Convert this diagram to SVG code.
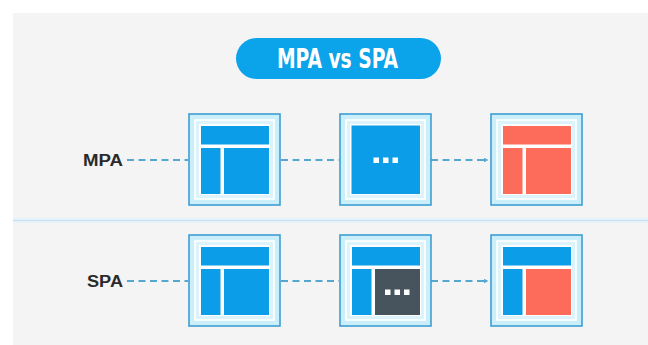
<svg xmlns="http://www.w3.org/2000/svg" width="648" height="345" viewBox="0 0 648 345">
<style>
.outer{fill:#cbeefb;stroke:#3d9fd3;stroke-width:1.6}
.ring{fill:#ddf3fc;stroke:#ffffff;stroke-width:1.6}
.bg{fill:#ffffff}
.b{fill:#0b9de8}
.r{fill:#fd6b5a}
.d{fill:#47545e}
.dot{fill:#ffffff}
.lbl{font-family:"Liberation Sans",Arial,sans-serif;font-weight:bold;font-size:16px;fill:#2b2b2b}
.dash{stroke:#55a7cf;stroke-width:2;stroke-dasharray:7 4.5;fill:none}
</style>
<defs>
<marker id="ah" viewBox="0 0 10 10" refX="9" refY="5" markerWidth="5" markerHeight="5" orient="auto" markerUnits="userSpaceOnUse">
<path d="M0,0 L10,5 L0,10 z" fill="#55a7cf"/>
</marker>
<g id="frame">
<rect class="outer" x="0" y="0" width="91" height="91"/>
<rect class="ring" x="6" y="6" width="79" height="79"/>
<rect class="bg" x="10" y="10" width="71" height="71"/>
</g>
</defs>
<rect x="0" y="0" width="648" height="345" fill="#ffffff"/>
<rect x="13" y="13" width="635" height="332" fill="#f4f4f5"/>
<rect x="13" y="218" width="635" height="5" fill="#e6f2f9"/>
<line x1="13" y1="220.5" x2="648" y2="220.5" stroke="#c9dfed" stroke-width="1.2"/>

<g id="title">
<rect x="236" y="38" width="205" height="41" rx="20.5" fill="#0ba3e9"/>
<text x="337.5" y="68" text-anchor="middle" font-family="'DejaVu Sans Condensed','DejaVu Sans',sans-serif" font-weight="bold" font-size="26" fill="#ffffff" textLength="121" lengthAdjust="spacingAndGlyphs">MPA vs SPA</text>
</g>

<g id="connectors">
<line class="dash" x1="127" y1="160" x2="188" y2="160"/>
<line class="dash" x1="281" y1="160" x2="339" y2="160"/>
<line class="dash" x1="431" y1="160" x2="488" y2="160" marker-end="url(#ah)"/>
<line class="dash" x1="127" y1="281" x2="188" y2="281"/>
<line class="dash" x1="281" y1="281" x2="339" y2="281"/>
<line class="dash" x1="431" y1="281" x2="488" y2="281" marker-end="url(#ah)"/>
</g>

<g id="label-mpa"><text class="lbl" x="123" y="166" text-anchor="end" textLength="40" lengthAdjust="spacingAndGlyphs">MPA</text></g>
<g id="label-spa"><text class="lbl" x="123" y="287" text-anchor="end" textLength="36" lengthAdjust="spacingAndGlyphs">SPA</text></g>

<g id="mpa-1" transform="translate(189,114)">
<use href="#frame"/>
<rect class="b" x="12" y="12" width="68" height="18.5"/>
<rect class="b" x="12" y="34" width="19.5" height="46"/>
<rect class="b" x="35" y="34" width="45" height="46"/>
</g>
<g id="mpa-2" transform="translate(340,114)">
<use href="#frame"/>
<rect class="b" x="11.5" y="11.5" width="68.5" height="68.5"/>
<rect class="dot" x="33.5" y="43.5" width="5.5" height="5.5"/>
<rect class="dot" x="43" y="43.5" width="5.5" height="5.5"/>
<rect class="dot" x="52.5" y="43.5" width="5.5" height="5.5"/>
</g>
<g id="mpa-3" transform="translate(491,114)">
<use href="#frame"/>
<rect class="r" x="12" y="12" width="68" height="18.5"/>
<rect class="r" x="12" y="34" width="19.5" height="46"/>
<rect class="r" x="35" y="34" width="45" height="46"/>
</g>

<g id="spa-1" transform="translate(189,235)">
<use href="#frame"/>
<rect class="b" x="12" y="12" width="68" height="18.5"/>
<rect class="b" x="12" y="34" width="19.5" height="46"/>
<rect class="b" x="35" y="34" width="45" height="46"/>
</g>
<g id="spa-2" transform="translate(340,235)">
<use href="#frame"/>
<rect class="b" x="12" y="12" width="68" height="18.5"/>
<rect class="b" x="12" y="34" width="19.5" height="46"/>
<rect class="d" x="35" y="34" width="45" height="46"/>
<rect class="dot" x="45" y="54.5" width="5.5" height="5.5"/>
<rect class="dot" x="54.5" y="54.5" width="5.5" height="5.5"/>
<rect class="dot" x="64" y="54.5" width="5.5" height="5.5"/>
</g>
<g id="spa-3" transform="translate(491,235)">
<use href="#frame"/>
<rect class="b" x="12" y="12" width="68" height="18.5"/>
<rect class="b" x="12" y="34" width="19.5" height="46"/>
<rect class="r" x="35" y="34" width="45" height="46"/>
</g>
</svg>
